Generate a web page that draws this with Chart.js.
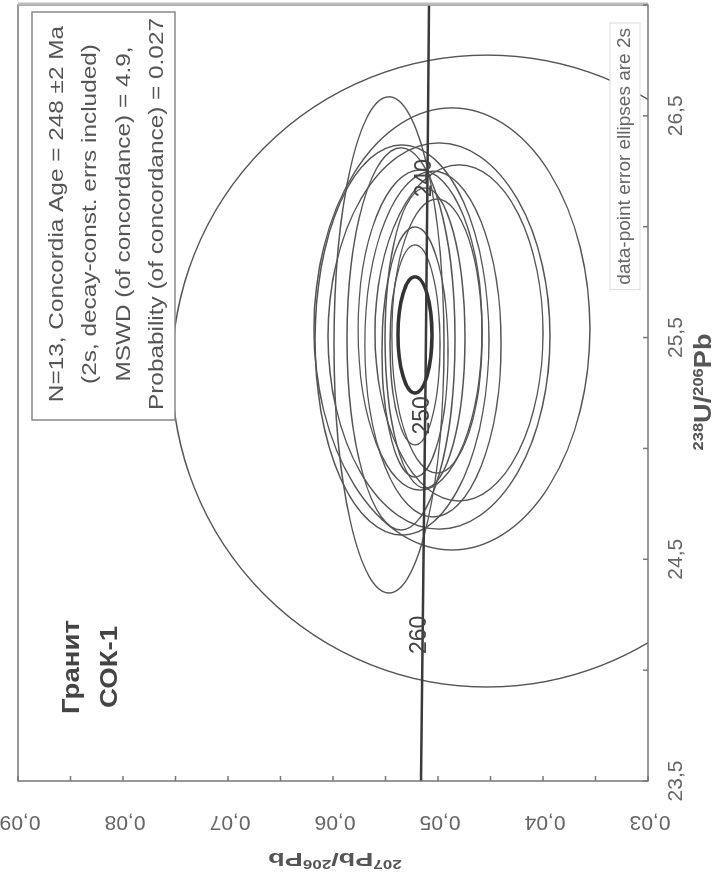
<!DOCTYPE html>
<html>
<head>
<meta charset="utf-8">
<script src="https://cdn.jsdelivr.net/npm/chart.js@4.4.1/dist/chart.umd.min.js"></script>
<style>
html, body { margin: 0; padding: 0; background: #fff; overflow: hidden; }
/* the diagram is drawn upright, then turned a quarter left like the scan */
#wrap { position: absolute; left: 0; top: 0; width: 880px; height: 725px;
        transform-origin: 0 0; transform: translate(0, 880px) rotate(-90deg); }
</style>
</head>
<body>
<div id="wrap"><canvas id="chart" width="880" height="725"></canvas></div>
<script>
// axis ranges and labelled ticks
const uPbRange = [23.5, 27.0];
const pbPbRange = [0.03, 0.09];
const uPbLabels = [23.5, 24.5, 25.5, 26.5];
const pbPbLabels = [0.03, 0.04, 0.05, 0.06, 0.07, 0.08, 0.09];

// concordia curve (age in Ma, 238U/206Pb, 207Pb/206Pb)
const concAge = [270, 260, 250, 240, 230];
const concU = [23.38, 24.30, 25.29, 26.36, 27.53];
const concPb = [0.05165, 0.05143, 0.05120, 0.05098, 0.05076];
const markedAges = [260, 250, 240];

// data-point error ellipses (2s): centre and half widths
const ellU   = [25.349, 25.467, 25.539, 25.507, 25.521, 25.494, 25.435, 25.471, 25.507, 25.489, 25.467, 25.534, 25.498];
const ellPb  = [0.04533, 0.05467, 0.04867, 0.04990, 0.04800, 0.05352, 0.05219, 0.05048, 0.05010, 0.05343, 0.05219, 0.05171, 0.05124];
const ellSU  = [1.425, 1.119, 0.997, 0.871, 0.758, 0.862, 0.564, 0.780, 0.618, 0.880, 0.451, 0.722, 0.677];
const ellSPb = [0.0300, 0.00524, 0.01314, 0.01057, 0.00800, 0.00514, 0.00314, 0.00648, 0.00429, 0.00829, 0.00238, 0.00590, 0.00381];

// concordia age ellipse
const meanU = 25.512, meanPb = 0.05219, meanSU = 0.262, meanSPb = 0.00162;

const resultLines = [
  'N=13, Concordia Age = 248 ±2 Ma',
  '(2s, decay-const. errs included)',
  'MSWD (of concordance) = 4.9,',
  'Probability (of concordance) = 0.027'
];
const sampleLines = ['Гранит', 'СОК-1'];
const ellipseNote = 'data-point error ellipses are 2s';
const xTitle = [['238', true], ['U', false], ['/', false], ['206', true], ['Pb', false]];
const yTitle = [['207', true], ['Pb', false], ['/', false], ['206', true], ['Pb', false]];

const FONT = '"Liberation Sans", Arial, sans-serif';

function txt(ctx, s, x, y, o) {
  ctx.save();
  ctx.translate(x, y);
  if (o.rot) ctx.rotate(o.rot);
  ctx.scale(o.sx || 1, 1);
  ctx.font = o.font;
  ctx.fillStyle = o.color;
  ctx.textAlign = o.align || 'center';
  ctx.textBaseline = o.base || 'middle';
  ctx.fillText(s, 0, 0);
  ctx.restore();
}

function supTitle(ctx, parts, x, y, rot, size, supSize, sx, color) {
  ctx.save();
  ctx.translate(x, y);
  ctx.rotate(rot);
  ctx.scale(sx, 1);
  ctx.fillStyle = color;
  ctx.textAlign = 'left';
  ctx.textBaseline = 'alphabetic';
  const big = 'bold ' + size + 'px ' + FONT, small = 'bold ' + supSize + 'px ' + FONT;
  let w = 0;
  parts.forEach(p => { ctx.font = p[1] ? small : big; w += ctx.measureText(p[0]).width; });
  let cx = -w / 2;
  const base = size * 0.36;
  parts.forEach(p => {
    ctx.font = p[1] ? small : big;
    ctx.fillText(p[0], cx, p[1] ? base - size * 0.38 : base);
    cx += ctx.measureText(p[0]).width;
  });
  ctx.restore();
}

const isoplot = {
  id: 'isoplot',
  beforeDatasetsDraw(chart) {
    const { ctx, chartArea: a, scales: { x, y } } = chart;
    ctx.save();
    ctx.beginPath();
    ctx.rect(a.left, a.top, a.right - a.left, a.bottom - a.top);
    ctx.clip();
    ctx.strokeStyle = '#555';
    ctx.lineWidth = 1.4;
    for (let i = 0; i < ellU.length; i++) {
      const px = x.getPixelForValue(ellU[i]), py = y.getPixelForValue(ellPb[i]);
      const rx = Math.abs(x.getPixelForValue(ellU[i] + ellSU[i]) - px);
      const ry = Math.abs(y.getPixelForValue(ellPb[i] + ellSPb[i]) - py);
      ctx.beginPath();
      ctx.ellipse(px, py, rx, ry, 0, 0, Math.PI * 2);
      ctx.stroke();
    }
    const mx = x.getPixelForValue(meanU), my = y.getPixelForValue(meanPb);
    ctx.beginPath();
    ctx.ellipse(mx, my, Math.abs(x.getPixelForValue(meanU + meanSU) - mx),
      Math.abs(y.getPixelForValue(meanPb + meanSPb) - my), 0, 0, Math.PI * 2);
    ctx.lineWidth = 3.5;
    ctx.strokeStyle = '#333';
    ctx.stroke();
    ctx.restore();
  },
  afterDraw(chart) {
    const { ctx, chartArea: a, scales: { x, y } } = chart;
    ctx.save();

    // age labels along the concordia
    markedAges.forEach(age => {
      const i = concAge.indexOf(age);
      txt(ctx, String(age), x.getPixelForValue(concU[i]) - 12, y.getPixelForValue(concPb[i]) - 3,
        { font: '23px ' + FONT, color: '#444', align: 'right' });
    });

    // note with white backing
    ctx.font = '19px ' + FONT;
    const nw = ctx.measureText(ellipseNote).width;
    const nx = a.right - 23, ny = a.bottom - 23;
    ctx.fillStyle = '#fff';
    ctx.fillRect(nx - nw - 5, ny - 15, nw + 10, 30);
    ctx.strokeStyle = '#ddd';
    ctx.lineWidth = 1;
    ctx.strokeRect(nx - nw - 5, ny - 15, nw + 10, 30);
    txt(ctx, ellipseNote, nx, ny, { font: '19px ' + FONT, color: '#666', align: 'right' });

    // result box
    const bx = 460, by = 32, bw = 408, bh = 143;
    ctx.fillStyle = '#fff';
    ctx.fillRect(bx, by, bw, bh);
    ctx.strokeStyle = '#888';
    ctx.lineWidth = 1.5;
    ctx.strokeRect(bx, by, bw, bh);
    resultLines.forEach((s, i) => {
      txt(ctx, s, bx + bw / 2 + 2, by + 25 + i * 33.5, { font: '21px ' + FONT, color: '#555', sx: 1.16 });
    });

    // sample name
    sampleLines.forEach((s, i) => {
      txt(ctx, s, 213, 73 + i * 38, { font: 'bold 23px ' + FONT, color: '#444', sx: 1.2 });
    });

    // frame
    ctx.strokeStyle = '#777';
    ctx.lineWidth = 1.5;
    ctx.strokeRect(a.left, a.top, a.right - a.left, a.bottom - a.top);
    ctx.strokeStyle = '#bbb';
    ctx.lineWidth = 3;
    ctx.beginPath();
    ctx.moveTo(a.right + 1, a.top);
    ctx.lineTo(a.right + 1, a.bottom);
    ctx.stroke();

    // inward ticks
    ctx.strokeStyle = '#777';
    ctx.lineWidth = 1.5;
    ctx.beginPath();
    x.ticks.forEach(t => {
      const p = x.getPixelForValue(t.value);
      ctx.moveTo(p, a.bottom);
      ctx.lineTo(p, a.bottom - 5);
    });
    y.ticks.forEach(t => {
      const p = y.getPixelForValue(t.value);
      ctx.moveTo(a.left, p);
      ctx.lineTo(a.left + 5, p);
    });
    ctx.stroke();

    // 207Pb/206Pb tick labels, written upward
    y.ticks.forEach(t => {
      const v = Math.round(t.value * 1000) / 1000;
      if (!pbPbLabels.some(l => Math.abs(l - v) < 1e-6)) return;
      txt(ctx, v.toFixed(2).replace('.', ','), 58, y.getPixelForValue(t.value) + 2,
        { font: '21px ' + FONT, color: '#666', rot: -Math.PI / 2 });
    });

    // axis titles
    supTitle(ctx, xTitle, (a.left + a.right) / 2 + 1, a.bottom + 55, 0, 23, 14, 1.18, '#555');
    supTitle(ctx, yTitle, 20, (a.top + a.bottom) / 2 + 2, -Math.PI / 2, 19, 12, 1.42, '#555');
    ctx.restore();
  }
};

new Chart(document.getElementById('chart'), {
  type: 'scatter',
  data: {
    datasets: [{
      label: 'Concordia',
      data: concU.map((u, i) => ({ x: u, y: concPb[i] })),
      showLine: true,
      borderColor: '#3a3a3a',
      borderWidth: 2.5,
      pointRadius: 0,
      tension: 0
    }]
  },
  options: {
    responsive: false,
    animation: false,
    layout: { padding: { top: 18, right: 5, left: 0, bottom: 0 } },
    plugins: { legend: { display: false }, tooltip: { enabled: false } },
    scales: {
      x: {
        type: 'linear', position: 'bottom', min: uPbRange[0], max: uPbRange[1],
        grid: { display: false, drawTicks: false },
        border: { display: false },
        ticks: {
          stepSize: 0.5, padding: 16, autoSkip: false, maxRotation: 0,
          color: '#666', font: { family: FONT, size: 21 },
          callback: v => uPbLabels.some(l => Math.abs(l - v) < 1e-6) ? v.toFixed(1).replace('.', ',') : ''
        },
        afterFit: s => { s.height = 77; s.paddingLeft = 0; s.paddingRight = 0; }
      },
      y: {
        type: 'linear', position: 'left', min: pbPbRange[0], max: pbPbRange[1],
        grid: { display: false, drawTicks: false },
        border: { display: false },
        ticks: { stepSize: 0.005, display: false },
        afterFit: s => { s.width = 99; s.paddingTop = 0; s.paddingBottom = 0; }
      }
    }
  },
  plugins: [isoplot]
});
</script>
</body>
</html>
